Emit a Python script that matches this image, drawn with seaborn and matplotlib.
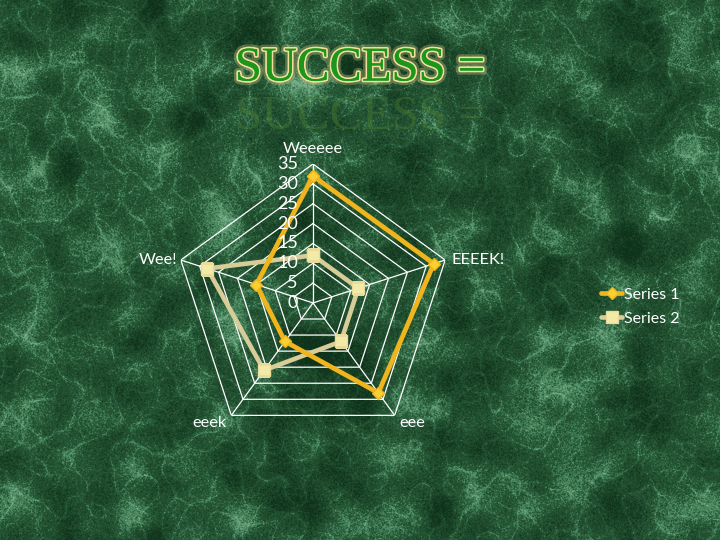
import numpy as np
import matplotlib
matplotlib.use("Agg")
import matplotlib.pyplot as plt
import matplotlib.patheffects as pe
from matplotlib.colors import LinearSegmentedColormap
from matplotlib.transforms import offset_copy
import seaborn as sns

# data
categories = ["Weeeee", "EEEEK!", "eee", "eeek", "Wee!"]
series1 = [32, 32, 28, 12, 15]
series2 = [12, 12, 12, 21, 28]
series_names = ["Series 1", "Series 2"]
rticks = [0, 5, 10, 15, 20, 25, 30, 35]

sns.set_theme(style="white")
plt.rcParams["font.family"] = ["Lato", "DejaVu Sans"]

fig = plt.figure(figsize=(7.2, 5.4), dpi=100)

# marble-ish green background (decoration only)
bg = fig.add_axes([0, 0, 1, 1])
rng = np.random.default_rng(7)
H, W = 540, 720
ky = np.fft.fftfreq(H)[:, None]
kx = np.fft.fftfreq(W)[None, :]
k2 = kx**2 + ky**2


def blur(a, s):
    return np.real(np.fft.ifft2(np.fft.fft2(a) * np.exp(-k2 * s)))


base = blur(rng.normal(size=(H, W)), 2500)
base /= base.std()
veins = np.exp(-np.abs(blur(rng.normal(size=(H, W)), 1500)) * 200)
veins2 = np.exp(-np.abs(blur(rng.normal(size=(H, W)), 600)) * 120)
grain = blur(rng.normal(size=(H, W)), 3)
grain /= grain.std()
tex = base * 0.55 + veins * 1.0 + veins2 * 0.7 + grain * 0.35
marble = LinearSegmentedColormap.from_list(
    "marble", ["#0f321b", "#1c4629", "#285a38", "#4c8a62", "#78ac88"])
bg.imshow(tex, cmap=marble, aspect="auto", extent=[0, 1, 0, 1], vmin=-1.5, vmax=2.6)
bg.set_axis_off()

# title with glow, plus a faint echo below it
fig.text(0.5, 0.783, "SUCCESS =", ha="center", va="center", fontsize=35,
         family="Liberation Serif", color="#4a7a30", alpha=0.45)
fig.text(0.5, 0.873, "SUCCESS =", ha="center", va="center", fontsize=35,
         family="Liberation Serif", color="#1c961c",
         path_effects=[pe.withStroke(linewidth=6, foreground="#d8c880", alpha=0.35),
                       pe.withStroke(linewidth=2.5, foreground="#efdf9c"),
                       pe.Normal()])

# radar chart
ax = fig.add_axes([0.2417, 0.1815, 0.386, 0.515], polar=True)
ax.set_facecolor("none")
ax.set_theta_offset(np.pi / 2)
ax.set_theta_direction(-1)
ax.set_ylim(0, 35)
ax.grid(False)
ax.spines["polar"].set_visible(False)
ax.set_xticks([])
ax.set_yticks([])

n = len(categories)
angles = np.linspace(0, 2 * np.pi, n, endpoint=False)
closed = np.append(angles, angles[0])

for r in rticks[1:]:
    ax.plot(closed, [r] * (n + 1), color="white", lw=0.9)
for a in angles:
    ax.plot([a, a], [0, rticks[-1]], color="white", lw=0.9)

for r in rticks:
    tr = offset_copy(ax.transData, fig=fig, x=-15, y=0, units="dots")
    ax.text(0, r, str(r), transform=tr, ha="right", va="center",
            color="white", fontsize=13)

label_offsets = [(0, 15, "center", "center"), (6, 0, "left", "center"),
                 (5, -8, "left", "center"), (-5, -8, "right", "center"),
                 (-4, 0, "right", "center")]
for a, lab, (dx, dy, ha, va) in zip(angles, categories, label_offsets):
    tr = offset_copy(ax.transData, fig=fig, x=dx, y=dy, units="dots")
    ax.text(a, rticks[-1], lab, transform=tr, ha=ha, va=va,
            color="white", fontsize=11.8)

l2, = ax.plot(closed, series2 + series2[:1], color="#d8cc98", lw=3.3,
              marker="s", ms=8, mfc="#f3eaa8", mec="#e8dc9c", label=series_names[1])
l1, = ax.plot(closed, series1 + series1[:1], color="#f0b41c", lw=3.4,
              marker="D", ms=6.5, mfc="#f8d030", mec="#f0b41c", label=series_names[0])

fig.legend(handles=[l1, l2], labels=series_names, loc="center left",
           bbox_to_anchor=(0.815, 0.432), frameon=False, fontsize=11.5,
           labelcolor="white", handlelength=1.3, handletextpad=0.1,
           labelspacing=0.6)

fig.savefig("out.png", dpi=100)
